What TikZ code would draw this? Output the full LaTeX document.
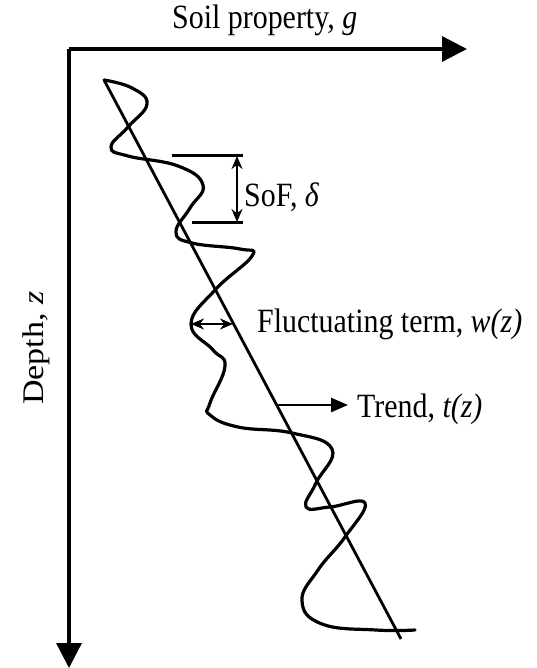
\documentclass[tikz,border=0pt]{standalone}
\usepackage{fontspec}
\setmainfont{Liberation Serif}
\usetikzlibrary{arrows.meta}
\tikzset{
  labelNode/.style={inner sep=0pt, font=\fontsize{34}{40}\selectfont, xscale=0.88},
  axisEdge/.style={-{Triangle[length=25pt, width=25pt]}, line width=3.4pt},
  trendEdge/.style={line width=2.8pt},
  profileCurve/.style={line width=3.2pt, line join=round, line cap=round},
  guideLine/.style={line width=3pt},
  dimEdge/.style={{Stealth[length=13pt, width=11pt]}-{Stealth[length=13pt, width=11pt]}, line width=2.6pt},
  pointEdge/.style={-{Triangle[length=17pt, width=14pt]}, line width=2.6pt}
}
\begin{document}
\begin{tikzpicture}[x=1pt, y=-1pt]
\useasboundingbox (0,0) rectangle (536,668);
% axes
\coordinate (O) at (69,49);
\coordinate (gEnd) at (467,49);
\coordinate (zEnd) at (69,668);
\draw[axisEdge] (O) -- (gEnd);
\draw[axisEdge] (O) -- (zEnd);
\node[labelNode, anchor=base west] (gLabel) at (172,29) {Soil property, \textit{g}};
\node[labelNode, rotate=90, anchor=base] (zLabel) at (43,348) {Depth, \textit{z}};

% trend and fluctuating profile
\coordinate (trendTop) at (104,80);
\coordinate (trendBot) at (401,639);
\draw[trendEdge] (trendTop) -- (trendBot);
\draw[profileCurve] plot[smooth, tension=0.75] coordinates {
  (104,80) (132,88) (147,104) (128,127) (111,147) (128,156) (178,166)
  (203,185) (190,208) (176,232) (192,243) (240,249) (252,256) (215,290)
  (191,324) (213,350) (225,366) (210,403) (210,415) (238,427) (292,433)
  (332,449) (316,483) (306,507) (330,507) (365,503) (345,537) (318,570)
  (302,601) (322,624) (376,630) (415,630)};

% scale of fluctuation
\coordinate (sofTopL) at (172,156);
\coordinate (sofTopR) at (243,156);
\coordinate (sofBotL) at (192,222);
\coordinate (sofBotR) at (243,222);
\coordinate (sofTop) at (237,156);
\coordinate (sofBot) at (237,222);
\draw[guideLine] (sofTopL) -- (sofTopR);
\draw[guideLine] (sofBotL) -- (sofBotR);
\draw[dimEdge] (sofTop) -- (sofBot);
\node[labelNode, anchor=base west] (sofLabel) at (244,207) {SoF, \textit{δ}};

% fluctuating term
\coordinate (wLeft) at (191,324);
\coordinate (wRight) at (233,324);
\draw[dimEdge] (wLeft) -- (wRight);
\node[labelNode, anchor=base west] (wLabel) at (257,332) {Fluctuating term, \textit{w(z)}};

% trend
\coordinate (tStart) at (276,405);
\coordinate (tTip) at (348,405);
\draw[pointEdge] (tStart) -- (tTip);
\node[labelNode, anchor=base west] (tLabel) at (357,417) {Trend, \textit{t(z)}};
\end{tikzpicture}
\end{document}
